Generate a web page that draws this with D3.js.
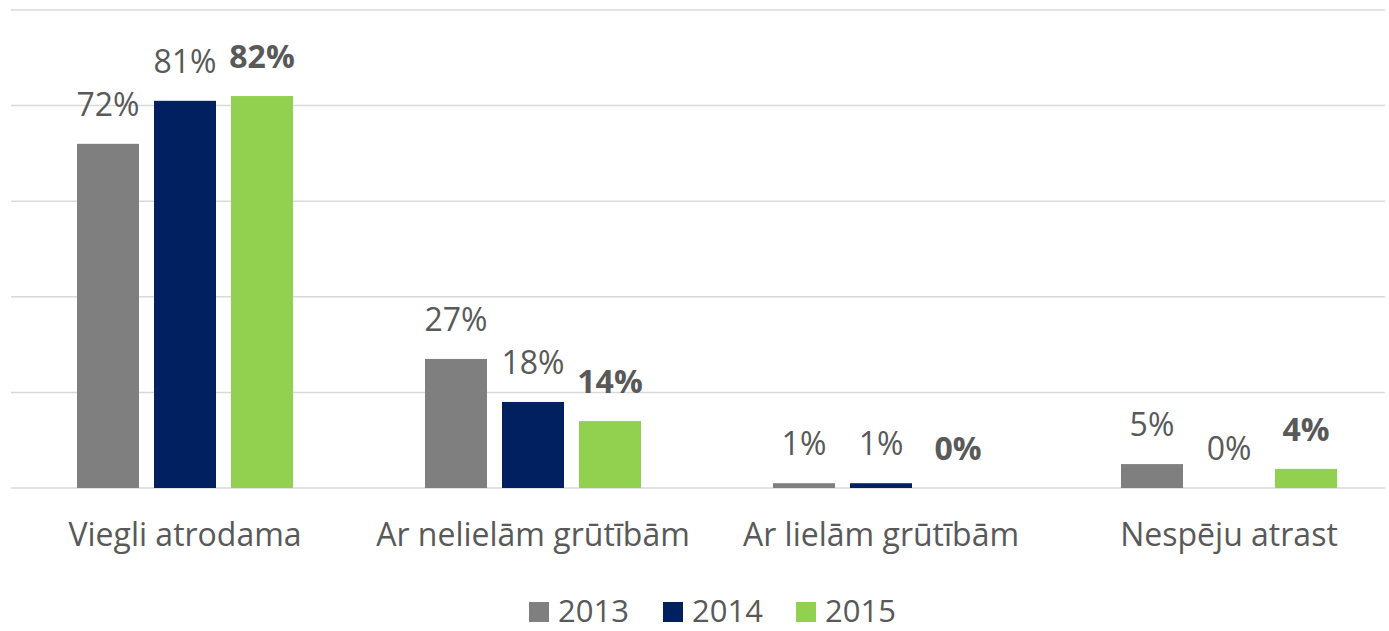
<!DOCTYPE html>
<html>
<head>
<meta charset="utf-8">
<script src="https://cdn.jsdelivr.net/npm/d3@7"></script>
<style>
  body { margin: 0; background: #fff; overflow: hidden; }
  text { font-family: "Open Sans", sans-serif; fill: #595959; }
</style>
</head>
<body>
<svg id="chart"></svg>
<script>
// kategorijas un gadi
var categories = ["Viegli atrodama", "Ar nelielām grūtībām", "Ar lielām grūtībām", "Nespēju atrast"];
var years = ["2013", "2014", "2015"];
var colors = ["#7f7f7f", "#002060", "#92d050"];
var values2013 = [0.72, 0.27, 0.01, 0.05];
var values2014 = [0.81, 0.18, 0.01, 0.00];
var values2015 = [0.82, 0.14, 0.00, 0.04];
var yTicks = [0, 0.2, 0.4, 0.6, 0.8, 1];

var width = 1389, height = 631;
var marginLeft = 11, marginTop = 10, plotBottom = 488;
var gridLeft = 11, gridRight = 1385;

var series = [values2013, values2014, values2015];

var svg = d3.select("#chart").attr("width", width).attr("height", height);

// skalas
var x0 = d3.scaleBand()
  .domain(categories)
  .range([marginLeft, marginLeft + 4 * 348]);
var x1 = d3.scaleBand()
  .domain(years)
  .range([0, x0.bandwidth()])
  .paddingInner(0.195)
  .paddingOuter(0.857);
var y = d3.scaleLinear().domain([0, 1]).range([plotBottom, marginTop]);

// režģa līnijas
svg.append("g")
  .selectAll("line")
  .data(yTicks)
  .enter()
  .append("line")
  .attr("x1", gridLeft)
  .attr("x2", gridRight)
  .attr("y1", (d) => y(d))
  .attr("y2", (d) => y(d))
  .attr("stroke", "#d9d9d9")
  .attr("stroke-width", 1.5);

// stabiņi
var groups = svg.selectAll(".group")
  .data(categories)
  .enter()
  .append("g")
  .attr("class", "group")
  .attr("transform", (d) => `translate(${x0(d)},0)`);

groups.selectAll("rect")
  .data((d, i) => years.map((yr, j) => ({ year: yr, value: series[j][i], color: colors[j] })))
  .enter()
  .append("rect")
  .attr("x", (d) => x1(d.year))
  .attr("y", (d) => y(d.value))
  .attr("width", x1.bandwidth())
  .attr("height", (d) => plotBottom - y(d.value))
  .attr("fill", (d) => d.color);

// vērtību etiķetes
groups.selectAll(".val")
  .data((d, i) => years.map((yr, j) => ({ year: yr, value: series[j][i], bold: j === 2 })))
  .enter()
  .append("text")
  .attr("class", "val")
  .attr("x", (d) => x1(d.year) + x1.bandwidth() / 2)
  .attr("y", (d) => y(d.value) - 28)
  .attr("text-anchor", "middle")
  .style("font-size", "32px")
  .style("font-weight", (d) => (d.bold ? "bold" : "normal"))
  .text((d) => Math.round(d.value * 100) + "%");

// kategoriju nosaukumi
svg.append("g")
  .selectAll("text")
  .data(categories)
  .enter()
  .append("text")
  .attr("x", (d) => x0(d) + x0.bandwidth() / 2)
  .attr("y", 546)
  .attr("text-anchor", "middle")
  .style("font-size", "32px")
  .text((d) => d);

// leģenda
var legendX = [529, 663, 796];
var legend = svg.selectAll(".legend")
  .data(years)
  .enter()
  .append("g")
  .attr("class", "legend")
  .attr("transform", (d, i) => `translate(${legendX[i]},0)`);
legend.append("rect")
  .attr("x", 0)
  .attr("y", 602)
  .attr("width", 20)
  .attr("height", 20)
  .attr("fill", (d, i) => colors[i]);
legend.append("text")
  .attr("x", 29)
  .attr("y", 622)
  .style("font-size", "31px")
  .text((d) => d);
</script>
</body>
</html>
